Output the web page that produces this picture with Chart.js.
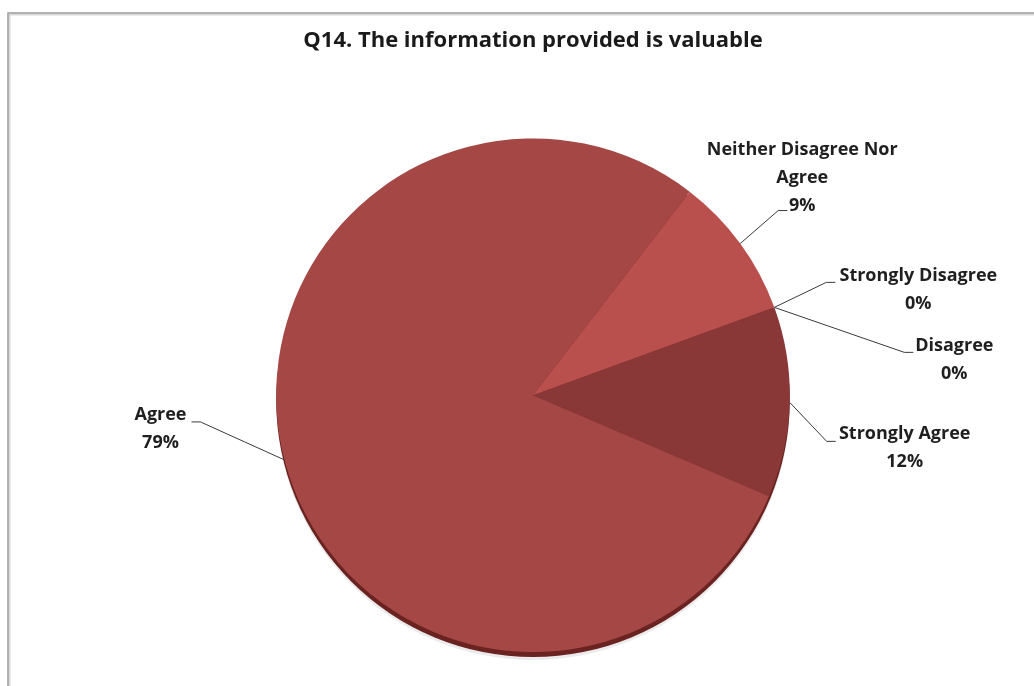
<!DOCTYPE html>
<html>
<head>
<meta charset="utf-8">
<script src="https://cdn.jsdelivr.net/npm/chart.js@4.4.1/dist/chart.umd.min.js"></script>
<style>
    html, body { margin: 0; padding: 0; background: #ffffff; }
    #wrap { width: 1034px; height: 686px; }
</style>
</head>
<body>
<div id="wrap"><canvas id="pieChart" width="1034" height="686"></canvas></div>
<script>
// survey answers, in the order the slices are drawn clockwise
const answers = ['Strongly Agree', 'Agree', 'Neither Disagree Nor Agree', 'Strongly Disagree', 'Disagree'];
const percents = [12, 79, 9, 0, 0];
const sliceColors = ['#8a3837', '#a44745', '#b9504e', '#b34c4a', '#a84846'];
// label text lines (wrapped by hand like the original workbook)
const labelLines = [
    ['Strongly Agree'],
    ['Agree'],
    ['Neither Disagree Nor', 'Agree'],
    ['Strongly Disagree'],
    ['Disagree']
];

// where each label sits, relative to the point where its leader touches the pie
const labelPlacement = [
    { end: [46, 39],   block: [115, 32] },
    { end: [-93, -38], block: [-124, -45] },
    { end: [47, -33],  block: [62, -94] },
    { end: [61, -25],  block: [144, -31] },
    { end: [139, 45],  block: [180, 39] }
];

const FONT = "'Open Sans', 'DejaVu Sans', sans-serif";

const framePlugin = {
    id: 'frame',
    beforeDraw(chart) {
        const ctx = chart.ctx;
        ctx.save();
        ctx.strokeStyle = '#d9d9d9';
        ctx.lineWidth = 3;
        ctx.beginPath();
        ctx.moveTo(9, chart.height);
        ctx.lineTo(9, 14);
        ctx.lineTo(chart.width, 14);
        ctx.stroke();
        ctx.strokeStyle = '#a3a3a3';
        ctx.lineWidth = 1.5;
        ctx.beginPath();
        ctx.moveTo(8, chart.height);
        ctx.lineTo(8, 13);
        ctx.lineTo(chart.width, 13);
        ctx.stroke();
        ctx.restore();
    }
};

// dark rim under the pie so it reads like the tilted excel pie
const rimPlugin = {
    id: 'rim',
    beforeDatasetsDraw(chart) {
        const arc = chart.getDatasetMeta(0).data[0];
        if (!arc) return;
        const { x, y, outerRadius } = arc.getProps(['x', 'y', 'outerRadius'], true);
        const ctx = chart.ctx;
        ctx.save();
        ctx.fillStyle = 'rgba(0,0,0,0.08)';
        ctx.beginPath();
        ctx.arc(x, y + 8, outerRadius, 0, Math.PI * 2);
        ctx.fill();
        ctx.fillStyle = '#6a2321';
        ctx.beginPath();
        ctx.arc(x, y + 5, outerRadius, 0, Math.PI * 2);
        ctx.fill();
        ctx.restore();
    }
};

const labelPlugin = {
    id: 'sliceLabels',
    afterDatasetsDraw(chart) {
        const ctx = chart.ctx;
        const meta = chart.getDatasetMeta(0);
        const lineH = 28;
        ctx.save();
        ctx.font = 'bold 18px ' + FONT;
        ctx.textBaseline = 'middle';
        ctx.textAlign = 'center';
        meta.data.forEach((arc, i) => {
            const p = arc.getProps(['x', 'y', 'startAngle', 'endAngle', 'outerRadius'], true);
            const mid = (p.startAngle + p.endAngle) / 2;
            const ax = p.x + Math.cos(mid) * p.outerRadius;
            const ay = p.y + Math.sin(mid) * p.outerRadius;
            const place = labelPlacement[i];
            const ex = ax + place.end[0], ey = ay + place.end[1];
            const dir = place.end[0] >= 0 ? 1 : -1;

            ctx.strokeStyle = '#3a3a3a';
            ctx.lineWidth = 1;
            ctx.beginPath();
            ctx.moveTo(ax, ay);
            ctx.lineTo(ex - dir * 9, ey);
            ctx.lineTo(ex, ey);
            ctx.stroke();

            const lines = labelLines[i].concat([percents[i] + '%']);
            const bx = ax + place.block[0], by = ay + place.block[1];
            ctx.fillStyle = '#1f1f1f';
            lines.forEach((txt, k) => {
                ctx.fillText(txt, bx, by + k * lineH);
            });
        });
        ctx.restore();
    }
};

document.addEventListener('DOMContentLoaded', function () {
    const ctx = document.getElementById('pieChart').getContext('2d');

    const data = {
        labels: answers,
        datasets: [{
            data: percents,
            backgroundColor: sliceColors,
            borderWidth: 0
        }]
    };

    const options = {
        responsive: false,
        animation: false,
        rotation: 70,
        layout: {
            padding: { top: 0, bottom: 34, left: 32, right: 0 }
        },
        plugins: {
            legend: { display: false },
            tooltip: { enabled: false },
            title: {
                display: true,
                text: 'Q14. The information provided is valuable',
                color: '#1a1a1a',
                font: { family: FONT, size: 22, weight: 'bold' },
                padding: { top: 28, bottom: 84 }
            }
        }
    };

    new Chart(ctx, {
        type: 'pie',
        data: data,
        options: options,
        plugins: [framePlugin, rimPlugin, labelPlugin]
    });
});
</script>
</body>
</html>
